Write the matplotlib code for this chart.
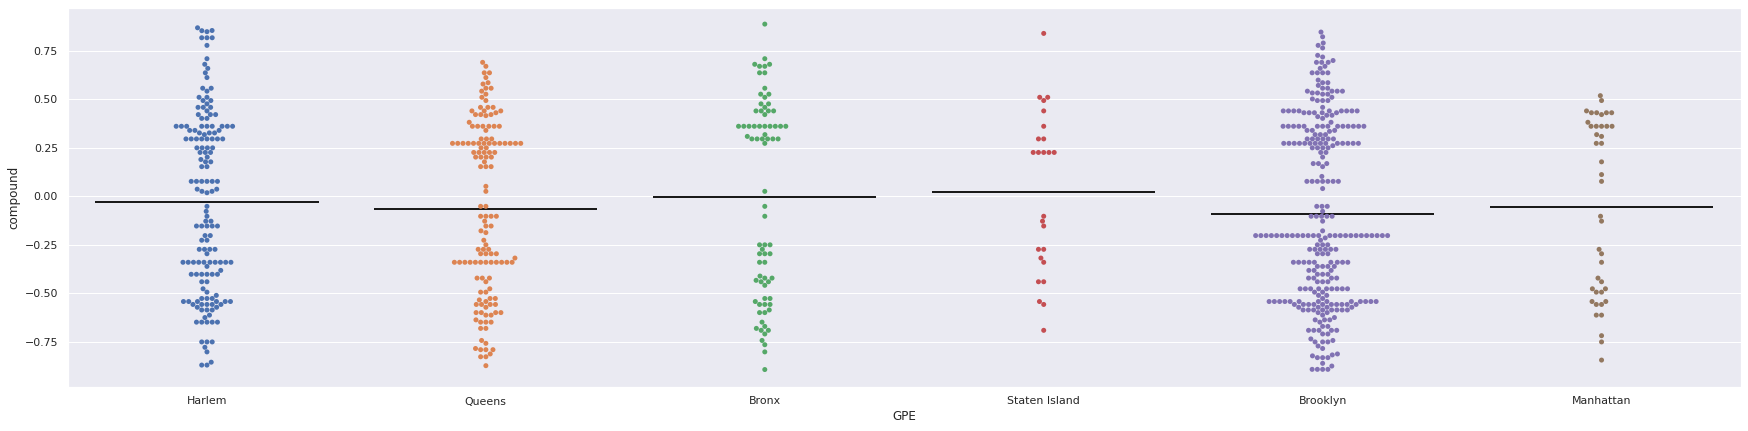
import matplotlib
matplotlib.use("Agg")
import matplotlib.pyplot as plt
import pandas as pd
import seaborn as sns

categories = ["Harlem", "Queens", "Bronx", "Staten Island", "Brooklyn", "Manhattan"]
means = [-0.029, -0.065, -0.003, 0.022, -0.089, -0.055]

harlem = [0.869, 0.854, 0.849, 0.855] + [0.8176]*3 + [0.7783, 0.7096, 0.6808, 0.6597, 0.6369, 0.6124] \
    + [0.5574]*2 + [0.5423] + [0.5106]*2 + [0.4939]*2 + [0.4767] + [0.4588]*3 + [0.4404] + [0.4215]*3 + [0.4019]*2 \
    + [0.3612]*9 + [0.34]*3 + [0.327]*3 + [0.3182] + [0.296]*8 + [0.25]*4 + [0.2263]*3 + [0.2023, 0.19] \
    + [0.1779]*2 + [0.1531]*2 + [0.0772]*6 + [0.037]*2 + [0.0258]*2 + [0.0186, -0.0516, -0.0772, -0.1027] \
    + [-0.128]*2 + [-0.1531]*5 + [-0.2023]*2 + [-0.2263]*2 + [-0.2732]*4 + [-0.296] + [-0.34]*10 + [-0.3612, -0.3818] \
    + [-0.4019]*6 + [-0.4404]*2 + [-0.4767, -0.4939, -0.5106] + [-0.5267]*3 + [-0.5423]*6 + [-0.5574]*5 + [-0.5719]*2 \
    + [-0.5859]*3 + [-0.6124, -0.6249] + [-0.6486]*5 + [-0.7506]*3 + [-0.7783, -0.802, -0.855] + [-0.87]*2

queens = [0.6908, 0.6705] + [0.6369]*2 + [0.6124, 0.5859, 0.579] + [0.5574]*2 + [0.5423, 0.5267, 0.5106, 0.4939] \
    + [0.4588]*3 + [0.4404]*3 + [0.431] + [0.4215]*3 + [0.416, 0.3818] + [0.3612]*6 + [0.34] + [0.296]*3 \
    + [0.2732]*14 + [0.25]*2 + [0.2263]*5 + [0.2023]*4 + [0.1779] + [0.1531]*3 + [0.0516, 0.0258] + [-0.0516]*2 \
    + [-0.1027]*4 + [-0.128, -0.1531, -0.1531, -0.1779, -0.187, -0.2263, -0.25] + [-0.2732]*3 + [-0.296]*4 \
    + [-0.3182] + [-0.34]*12 + [-0.4215]*3 + [-0.4404, -0.4767] + [-0.4939]*2 + [-0.5267]*2 + [-0.534, -0.5423] \
    + [-0.5574]*4 + [-0.5719] + [-0.5994]*4 + [-0.6124]*2 + [-0.6369] + [-0.6486]*3 + [-0.6808]*2 + [-0.743, -0.7579, -0.7845] \
    + [-0.7906]*3 + [-0.8126] + [-0.8271]*2 + [-0.873]

bronx = [0.888, 0.7096] + [0.6808]*2 + [0.6705]*2 + [0.6369]*2 + [0.5574] + [0.5267]*2 + [0.5106] + [0.4767]*2 + [0.4588] \
    + [0.4404]*4 + [0.4215] + [0.3612]*10 + [0.3182, 0.309] + [0.296]*6 + [0.2732, 0.0258, -0.0516, -0.1027] \
    + [-0.25]*3 + [-0.2732] + [-0.296]*3 + [-0.34]*2 + [-0.411] + [-0.4215]*2 + [-0.433] + [-0.4404]*2 + [-0.4588] \
    + [-0.5267]*2 + [-0.5423] + [-0.5574]*3 + [-0.5859] + [-0.5994]*2 + [-0.6486, -0.6705, -0.6808] + [-0.6908]*2 \
    + [-0.7096, -0.743, -0.765, -0.802, -0.893]

staten_island = [0.84] + [0.5106]*2 + [0.4939, 0.4404, 0.3612] + [0.296]*2 + [0.2263]*5 + [-0.1027, -0.128, -0.1531] \
    + [-0.2732]*2 + [-0.3182, -0.34] + [-0.4404]*2 + [-0.5423, -0.5574, -0.6908]

brooklyn = [0.847, 0.8225, 0.7906, 0.7783, 0.765, 0.7269, 0.7184, 0.7003] + [0.6908]*3 + [0.6705, 0.6597] + [0.6369]*4 \
    + [0.5994] + [0.5859]*2 + [0.5719] + [0.5574]*2 + [0.5423]*4 + [0.533]*2 + [0.5267]*2 + [0.5106, 0.502] + [0.4939]*3 \
    + [0.4588] + [0.4404]*9 + [0.431]*5 + [0.418]*2 + [0.411, 0.4019, 0.3818] + [0.3612]*14 + [0.34]*3 + [0.335] \
    + [0.3182]*3 + [0.296]*6 + [0.2732]*14 + [0.261] + [0.25]*4 + [0.2263]*2 + [0.2023] + [0.1689]*3 + [0.1531, 0.1027] \
    + [0.0772]*7 + [0.04] + [-0.0516]*3 + [-0.0772] + [-0.1027]*5 + [-0.128, -0.1779] + [-0.2023]*25 + [-0.2144, -0.2263] \
    + [-0.25]*3 + [-0.2732]*6 + [-0.296]*3 + [-0.34]*9 + [-0.3612]*4 + [-0.3818]*3 + [-0.4019]*3 \
    + [-0.4215]*4 + [-0.4404]*3 + [-0.4767]*9 + [-0.4939]*2 + [-0.5106]*2 + [-0.5267] + [-0.5423]*13 + [-0.5574]*10 \
    + [-0.5719]*4 + [-0.5859]*8 + [-0.5994]*2 + [-0.6124, -0.6249] + [-0.6369]*3 + [-0.6486] + [-0.6705]*2 + [-0.6908]*5 \
    + [-0.7096]*2 + [-0.7351, -0.743] + [-0.7506]*3 + [-0.7717, -0.7845, -0.8126, -0.8176, -0.8225] + [-0.8316]*3 \
    + [-0.861, -0.875] + [-0.892]*4

manhattan = [0.519, 0.4939, 0.4404] + [0.431]*4 + [0.4215, 0.3818] + [0.3612]*5 + [0.3182, 0.309] + [0.2732]*2 \
    + [0.1779, 0.1122, 0.0772, -0.1027, -0.128, -0.2732, -0.296, -0.34, -0.4215, -0.4404] + [-0.4767]*2 + [-0.4939]*2 \
    + [-0.5423]*2 + [-0.5574]*2 + [-0.6124]*2 + [-0.7184, -0.7506, -0.8442]

series = [harlem, queens, bronx, staten_island, brooklyn, manhattan]
df = pd.DataFrame(
    [(c, v) for c, vals in zip(categories, series) for v in vals],
    columns=["GPE", "compound"],
)

sns.set_theme()
W, H, DPI = 1748, 431, 72
fig, ax = plt.subplots(figsize=(W / DPI, H / DPI), dpi=DPI)
fig.subplots_adjust(left=67.5 / W, right=1741 / W, top=1 - 8 / H, bottom=1 - 387 / H)

sns.swarmplot(data=df, x="GPE", y="compound", hue="GPE", order=categories,
              hue_order=categories, palette="deep", size=5, legend=False, ax=ax, zorder=3)
for i, m in enumerate(means):
    ax.hlines(m, i - 0.4, i + 0.4, color="k", lw=2, zorder=2)

ax.set_xlim(-0.5, 5.5)
ax.set_ylim(-0.983, 0.971)
fig.savefig("out.png", dpi=DPI)
